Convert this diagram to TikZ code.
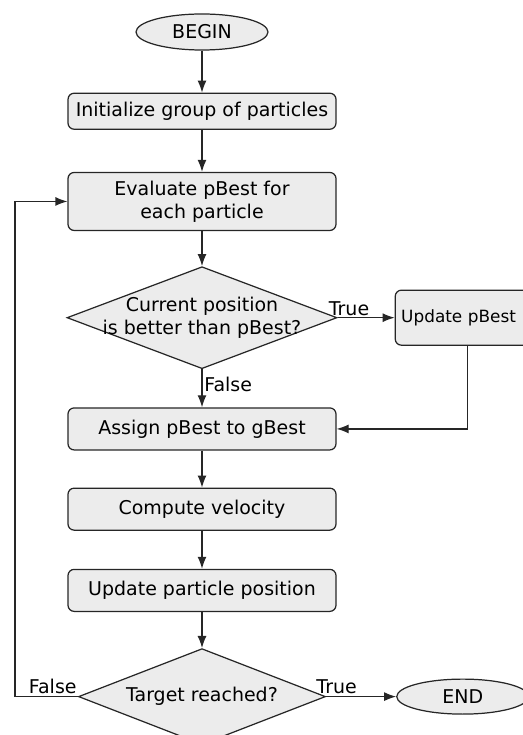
\documentclass[tikz,border=0pt]{standalone}
\usepackage{fontspec}
\setmainfont{DejaVu Sans}
\usepackage{tikz}
\usetikzlibrary{positioning, arrows, arrows.meta, shapes}

\begin{document}
\begin{tikzpicture}[node distance=0.8cm, font=\fontsize{10.8}{13}\selectfont]
    \tikzstyle{process} = [rectangle, rounded corners=3.5pt, draw=black!85, line width=0.7pt, fill=gray!15, minimum width=5.36cm, minimum height=0.84cm, align=center]
    \tikzstyle{decision} = [diamond, draw=black!85, line width=0.7pt, fill=gray!15, inner sep=0pt]
    \tikzstyle{terminal} = [ellipse, draw=black!85, line width=0.7pt, fill=gray!15, minimum width=2.64cm, minimum height=0.72cm, inner sep=0pt]
    \tikzstyle{arrow} = [-{Latex[length=2.4mm, width=1.8mm]}, draw=black!85, line width=0.7pt]
    \tikzstyle{answer} = [font=\fontsize{10.8}{13}\selectfont, inner sep=1pt]

    \useasboundingbox (0,0) rectangle (10.46,-14.7);

    % Start
    \node[terminal] (begin) at (4.04,-0.64) {BEGIN};

    % Main column
    \node[process, minimum height=0.72cm, below=0.84cm of begin] (init) {Initialize group of particles};
    \node[process, minimum height=1.16cm, below=0.84cm of init] (eval) {Evaluate pBest for\\each particle};
    \node[decision, minimum width=5.4cm, minimum height=2.04cm, below=0.7cm of eval] (better) {};
    \node[align=center] (bettertext) at (better) {Current position\\is better than pBest?};
    \node[process, below=0.76cm of better] (assign) {Assign pBest to gBest};
    \node[process, below=0.74cm of assign] (velocity) {Compute velocity};
    \node[process, below=0.76cm of velocity] (position) {Update particle position};
    \node[decision, minimum width=4.94cm, minimum height=1.92cm, below=0.72cm of position] (target) {};
    \node (targettext) at (target) {Target reached?};

    % Side nodes
    \node[process, minimum width=2.9cm, minimum height=1.1cm, text width=2.66cm, align=left, inner xsep=3pt, font=\fontsize{9.6}{12}\selectfont, right=1.14cm of better] (update) {Update pBest};
    \node[terminal, minimum height=0.7cm, right=1.4cm of target] (end) {END};

    % Loop back point
    \coordinate (back) at (0.3,0);

    % Connectors
    \draw[arrow] (begin) -- (init);
    \draw[arrow] (init) -- (eval);
    \draw[arrow] (eval) -- (better);
    \draw[arrow] (better) -- node[answer, right, pos=0.4] {False} (assign);
    \draw[arrow] (better) -- node[answer, above, pos=0.2] {True} (update);
    \draw[arrow] (update.south) |- (assign.east);
    \draw[arrow] (assign) -- (velocity);
    \draw[arrow] (velocity) -- (position);
    \draw[arrow] (position) -- (target);
    \draw[arrow] (target) -- node[answer, above, pos=0.15] {True} (end);
    \draw[arrow] (target.west) -- node[answer, above, pos=0.4] {False} (target.west -| back) |- (eval.west);

\end{tikzpicture}
\end{document}
